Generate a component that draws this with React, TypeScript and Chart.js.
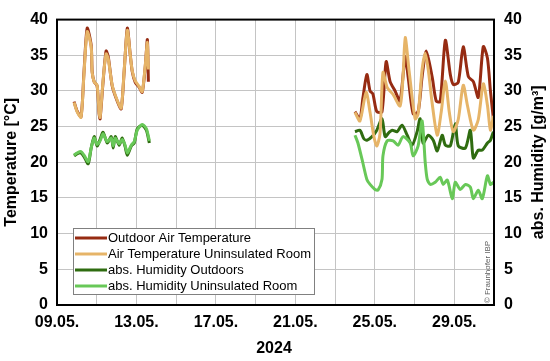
import React, { useEffect, useRef } from "react";
import { Chart, registerables } from "chart.js";

Chart.register(...registerables);

// x values: days since 09.05.2024 00:00
const outdoorTempDays = [0.86, 1.01, 1.21, 1.36, 1.52, 1.72, 1.77, 1.87, 2.02, 2.12, 2.17, 2.32, 2.47, 2.58, 2.78, 3.03, 3.23, 3.38, 3.54, 3.69, 3.79, 3.94, 4.14, 4.29, 4.44, 4.55, 4.6,
  9,
  15.0, 15.25, 15.4, 15.6, 15.76, 15.9, 16.1, 16.36, 16.57, 16.77, 17.02, 17.27, 17.53, 17.68, 17.93, 18.18, 18.38, 18.59, 18.89, 19.09, 19.29, 19.55, 19.8, 19.95, 20.2, 20.45, 20.71, 20.96, 21.21, 21.46, 21.67, 21.82, 21.97];
const outdoorTempValues = [28.5, 27.2, 26.4, 32.7, 38.8, 36.4, 32.7, 31.3, 30.7, 26.8, 26.1, 31.3, 35.6, 34.8, 30.7, 28.6, 27.5, 32.7, 38.8, 35.0, 32.7, 31.2, 30.5, 29.8, 33.3, 37.2, 31.3,
  null,
  27.1, 26.1, 29.0, 32.3, 30.0, 29.6, 27.1, 27.1, 34.1, 31.3, 30.0, 28.6, 34.8, 31.9, 26.8, 27.1, 32.0, 35.6, 31.9, 28.6, 28.5, 37.1, 32.3, 30.9, 31.2, 36.2, 32.0, 31.3, 29.1, 36.2, 34.6, 30.0, 26.1];

const roomTempDays = [0.86, 1.01, 1.21, 1.36, 1.52, 1.72, 1.77, 1.87, 2.02, 2.12, 2.17, 2.32, 2.47, 2.58, 2.78, 3.03, 3.23, 3.38, 3.54, 3.69, 3.79, 3.94, 4.14, 4.29, 4.44, 4.55, 4.6,
  9,
  15.0, 15.25, 15.56, 15.76, 15.96, 16.1, 16.26, 16.41, 16.62, 16.92, 17.27, 17.42, 17.53, 17.73, 18.03, 18.18, 18.38, 18.54, 18.69, 18.89, 19.14, 19.34, 19.55, 19.75, 19.95, 20.2, 20.45, 20.66, 20.96, 21.21, 21.46, 21.67, 21.82, 21.97];
const roomTempValues = [28.4, 27.1, 26.3, 32.5, 38.3, 36.2, 32.6, 31.3, 30.8, 27.0, 26.3, 31.5, 35.2, 34.5, 30.8, 28.7, 27.6, 32.8, 38.5, 35.0, 32.8, 31.4, 30.6, 29.9, 33.5, 36.8, 33.0,
  null,
  27.0, 25.8, 29.8, 27.0, 23.5, 22.3, 24.0, 32.6, 30.5, 29.5, 27.9, 32.0, 37.5, 32.7, 26.1, 26.8, 33.0, 35.3, 33.0, 28.2, 23.8, 27.0, 31.4, 27.0, 24.3, 26.0, 30.8, 28.0, 24.5, 26.0, 31.0, 28.0, 24.5, 26.5];

const outdoorHumDays = [0.86, 1.01, 1.21, 1.36, 1.57, 1.72, 1.87, 2.02, 2.17, 2.32, 2.53, 2.73, 2.83, 2.93, 3.13, 3.28, 3.43, 3.54, 3.74, 3.89, 4.04, 4.29, 4.5, 4.65,
  9,
  15.0, 15.25, 15.45, 15.6, 15.86, 16.1, 16.36, 16.52, 16.72, 16.87, 17.12, 17.37, 17.63, 17.88, 18.13, 18.28, 18.43, 18.69, 18.94, 19.14, 19.39, 19.55, 19.8, 20.05, 20.2, 20.56, 20.81, 20.96, 21.21, 21.41, 21.67, 21.82, 21.97];
const outdoorHumValues = [20.9, 21.2, 21.3, 20.8, 19.8, 22.0, 23.6, 22.3, 23.2, 24.2, 22.7, 23.6, 22.0, 23.6, 22.4, 23.4, 22.2, 21.0, 22.3, 22.7, 24.7, 25.2, 24.5, 22.7,
  null,
  24.3, 24.5, 23.3, 23.1, 23.6, 24.5, 26.1, 23.6, 24.2, 24.5, 24.3, 25.2, 23.8, 22.4, 24.3, 26.1, 22.7, 23.8, 23.1, 21.6, 23.8, 22.4, 22.3, 25.4, 22.3, 22.0, 24.5, 20.6, 21.7, 21.7, 22.7, 23.1, 24.3];

const roomHumDays = [0.86, 1.01, 1.21, 1.36, 1.57, 1.72, 1.87, 2.02, 2.17, 2.32, 2.53, 2.73, 2.83, 2.93, 3.13, 3.28, 3.43, 3.54, 3.74, 3.89, 4.04, 4.29, 4.5, 4.65,
  9,
  15.0, 15.15, 15.4, 15.6, 15.76, 16.01, 16.16, 16.36, 16.41, 16.62, 16.92, 17.17, 17.42, 17.78, 17.93, 18.18, 18.38, 18.54, 18.64, 18.79, 19.04, 19.29, 19.44, 19.65, 19.9, 20.05, 20.3, 20.56, 20.81, 20.96, 21.21, 21.41, 21.67, 21.82, 21.97];
const roomHumValues = [21.0, 21.3, 21.5, 21.0, 20.1, 22.0, 23.4, 22.5, 23.0, 24.0, 22.9, 23.4, 22.3, 23.4, 22.6, 23.2, 22.4, 21.3, 22.4, 22.9, 24.5, 25.3, 24.7, 23.0,
  null,
  23.8, 22.7, 19.9, 17.6, 16.9, 16.2, 16.1, 17.6, 20.9, 23.0, 23.0, 22.4, 23.6, 22.7, 20.9, 22.3, 25.8, 19.9, 17.6, 16.9, 17.2, 17.9, 16.9, 17.5, 14.9, 17.2, 16.2, 16.9, 16.5, 14.9, 16.1, 14.9, 18.1, 16.9, 17.2];

const seriesLabels = [
  "Outdoor Air Temperature",
  "Air Temperature Uninsulated Room",
  "abs. Humidity Outdoors",
  "abs. Humidity Uninsulated Room",
];
const seriesColors = ["#962b12", "#e6b468", "#2f6c10", "#68c858"];

const yTicks = [0, 5, 10, 15, 20, 25, 30, 35, 40];
const xMin = 0;
const xMax = 22;
const startDay = 9;
const monthLabel = "05";
const yearLabel = "2024";
const leftTitle = "Temperature [°C]";
const rightTitle = "abs. Humidity [g/m³]";
const copyright = "© Fraunhofer IBP";

function toPoints(days: number[], values: (number | null)[]) {
  return days.map((d, i) => ({ x: d, y: values[i] }));
}

const FONT = "'Liberation Sans', Arial, sans-serif";

const overlayPlugin = {
  id: "overlay",
  afterDraw(chart: any) {
    const { ctx, chartArea } = chart;
    const { left, right, top, bottom } = chartArea;
    ctx.save();
    // frame
    ctx.strokeStyle = "#000";
    ctx.lineWidth = 2;
    ctx.strokeRect(left, top, right - left, bottom - top);

    // legend box
    const bx = 73, by = 228, bw = 241, bh = 66;
    ctx.fillStyle = "#fff";
    ctx.fillRect(bx, by, bw, bh);
    ctx.strokeStyle = "#808080";
    ctx.lineWidth = 1;
    ctx.strokeRect(bx + 0.5, by + 0.5, bw, bh);
    ctx.font = `13px ${FONT}`;
    ctx.textBaseline = "middle";
    ctx.textAlign = "left";
    seriesLabels.forEach((lab, i) => {
      const yy = by + 10 + i * 16;
      ctx.strokeStyle = seriesColors[i];
      ctx.lineWidth = 3;
      ctx.beginPath();
      ctx.moveTo(bx + 2, yy);
      ctx.lineTo(bx + 34, yy);
      ctx.stroke();
      ctx.fillStyle = "#000";
      ctx.fillText(lab, bx + 35, yy + 0.5);
    });

    // axis titles
    ctx.fillStyle = "#000";
    ctx.font = `bold 16px ${FONT}`;
    ctx.textAlign = "center";
    ctx.textBaseline = "middle";
    ctx.save();
    ctx.translate(12, (top + bottom) / 2);
    ctx.rotate(-Math.PI / 2);
    ctx.fillText(leftTitle, 0, 0);
    ctx.restore();
    ctx.save();
    ctx.translate(539, (top + bottom) / 2);
    ctx.rotate(-Math.PI / 2);
    ctx.fillText(rightTitle, 0, 0);
    ctx.restore();
    ctx.fillText(yearLabel, 274, 349);

    // copyright
    ctx.save();
    ctx.translate(488, 272);
    ctx.rotate(-Math.PI / 2);
    ctx.font = `8px ${FONT}`;
    ctx.fillStyle = "#606060";
    ctx.fillText(copyright, 0, 0);
    ctx.restore();

    ctx.restore();
  },
};

export default function App() {
  const ref = useRef<HTMLCanvasElement | null>(null);
  useEffect(() => {
    if (!ref.current) return;
    const common = { pointRadius: 0, borderWidth: 3, tension: 0.25, fill: false, spanGaps: false };
    const chart = new Chart(ref.current, {
      type: "line",
      data: {
        datasets: [
          { ...common, label: seriesLabels[0], data: toPoints(outdoorTempDays, outdoorTempValues), borderColor: seriesColors[0], yAxisID: "y", order: 1 },
          { ...common, label: seriesLabels[1], data: toPoints(roomTempDays, roomTempValues), borderColor: seriesColors[1], yAxisID: "y", order: 0 },
          { ...common, label: seriesLabels[2], data: toPoints(outdoorHumDays, outdoorHumValues), borderColor: seriesColors[2], yAxisID: "y2", order: 3 },
          { ...common, label: seriesLabels[3], data: toPoints(roomHumDays, roomHumValues), borderColor: seriesColors[3], yAxisID: "y2", order: 2 },
        ] as any,
      },
      options: {
        responsive: false,
        animation: false,
        devicePixelRatio: 1,
        layout: { padding: { top: 14, left: 0, right: 0, bottom: 0 } },
        plugins: { legend: { display: false }, tooltip: { enabled: false } },
        scales: {
          x: {
            type: "linear",
            min: xMin,
            max: xMax,
            afterFit: (s: any) => { s.height = 56; },
            afterBuildTicks: (s: any) => {
              const t = [];
              for (let v = xMin; v <= xMax; v += 2) t.push({ value: v });
              s.ticks = t;
            },
            ticks: {
              autoSkip: false,
              maxRotation: 0,
              padding: 8,
              color: "#000",
              font: { family: FONT, size: 16, weight: "bold" },
              callback: (v: any) => {
                const n = Number(v);
                if (n % 4 !== 0) return "";
                const d = startDay + n;
                return `${String(d).padStart(2, "0")}.${monthLabel}.`;
              },
            },
            grid: { color: "#c4c4c4", lineWidth: 1, drawTicks: false },
            border: { display: false },
          },
          y: {
            position: "left",
            min: 0,
            max: 40,
            afterFit: (s: any) => { s.width = 57; },
            afterBuildTicks: (s: any) => { s.ticks = yTicks.map((v) => ({ value: v })); },
            ticks: { padding: 9, color: "#000", font: { family: FONT, size: 16, weight: "bold" } },
            grid: { color: "#c4c4c4", lineWidth: 1, drawTicks: false },
            border: { display: false },
          },
          y2: {
            position: "right",
            min: 0,
            max: 40,
            afterFit: (s: any) => { s.width = 56; },
            afterBuildTicks: (s: any) => { s.ticks = yTicks.map((v) => ({ value: v })); },
            ticks: { padding: 10, color: "#000", font: { family: FONT, size: 16, weight: "bold" } },
            grid: { display: false, drawTicks: false },
            border: { display: false },
          },
        },
      } as any,
      plugins: [overlayPlugin],
    });
    return () => chart.destroy();
  }, []);
  return (
    <div style={{ position: "fixed", left: 0, top: 0, width: 550, height: 361, background: "#fff" }}>
      <canvas ref={ref} width={550} height={361} />
    </div>
  );
}
